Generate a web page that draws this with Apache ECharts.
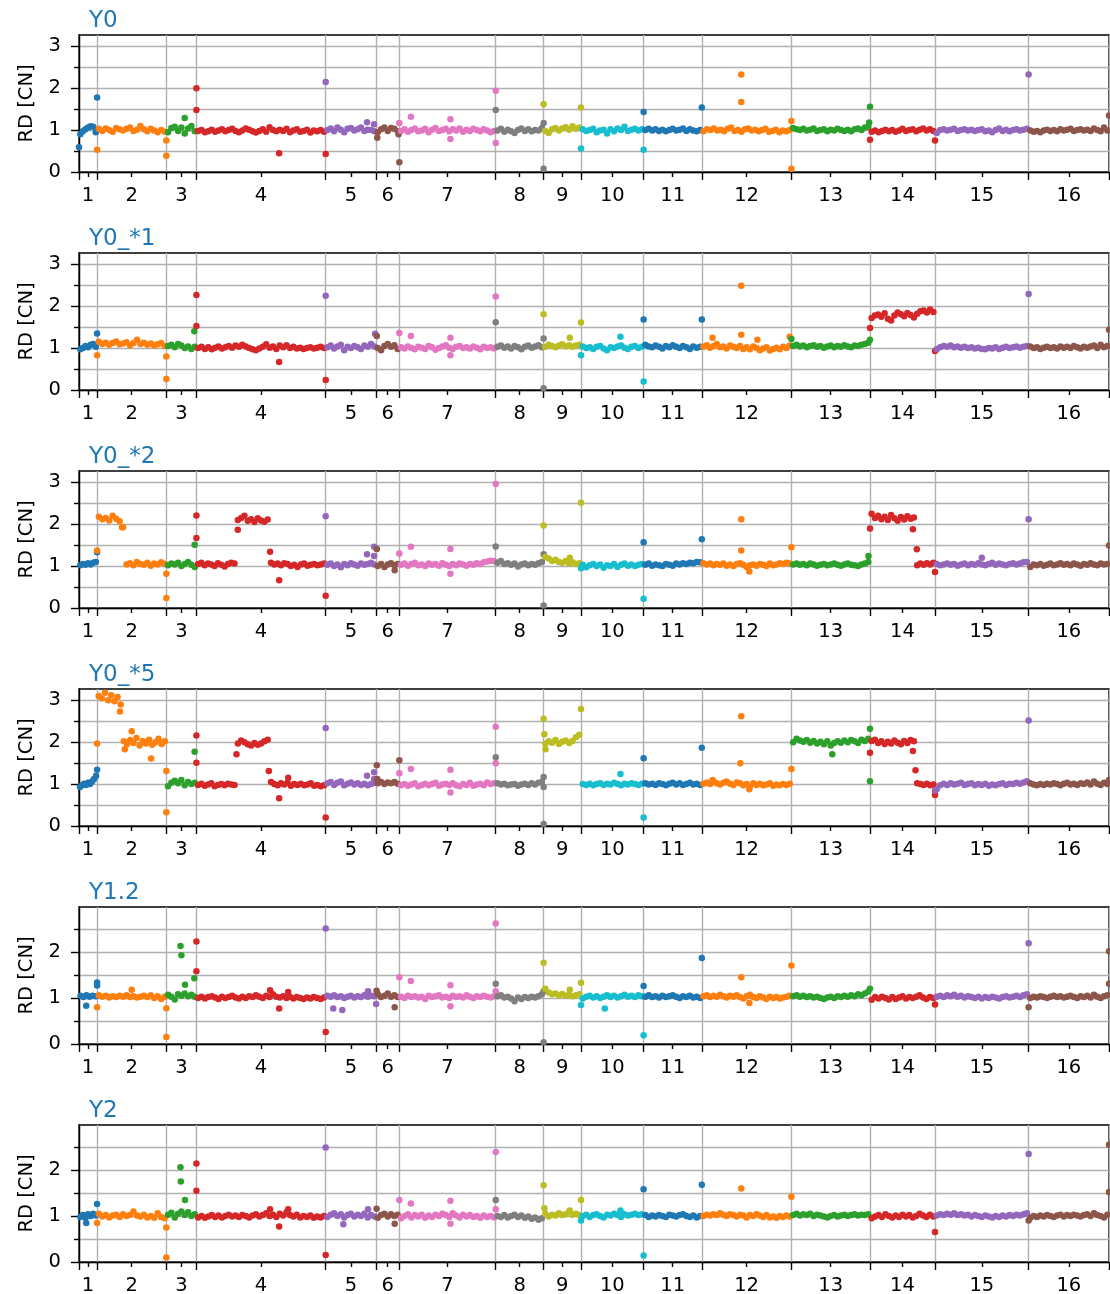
<!DOCTYPE html>
<html>
<head>
<meta charset="utf-8">
<script src="https://cdn.jsdelivr.net/npm/echarts@6/dist/echarts.min.js"></script>
<style>
  html, body { margin: 0; padding: 0; background: #fff; }
  #chart { width: 1110px; height: 1294px; }
</style>
</head>
<body>
<div id="chart"></div>
<script>
// chromosome names and widths (kb)
const chromNames = ['1', '2', '3', '4', '5', '6', '7', '8', '9', '10', '11', '12', '13', '14', '15', '16'];
const chromLen = [212, 812, 352, 1515, 591, 272, 1130, 561, 438, 734, 682, 1050, 921, 762, 1097, 942];

const panelTitles = ['Y0', 'Y0_*1', 'Y0_*2', 'Y0_*5', 'Y1.2', 'Y2'];
const yMax = [3.27, 3.27, 3.27, 3.27, 2.98, 2.98];
const yMajor = [0, 1, 2, 3];
const yMinor = [0.5, 1.5, 2.5];

// read depth per bin, one list per chromosome; outliers are [chrom, position along chrom (0..1), RD]
const bandY0 = [
  [0.90, 0.97, 1.02, 1.06, 1.09, 1.08, 0.95],
  [1.03, 0.98, 1.04, 1.00, 0.96, 1.05, 1.02, 0.99, 1.03, 1.06, 0.98, 1.01, 1.10, 1.02, 0.97, 1.03, 0.99, 0.95, 1.00, 0.96],
  [0.95, 1.05, 1.08, 0.98, 1.06, 0.92, 1.04, 1.10, 0.97],
  [0.98, 1.00, 0.95, 0.97, 1.01, 0.96, 0.99, 1.02, 0.97, 1.00, 1.03, 0.98, 0.95, 0.99, 1.04, 1.01, 0.97, 0.94, 0.98, 1.02, 0.96, 1.07, 1.00, 0.97, 1.01, 0.98, 1.03, 0.95, 0.99, 1.02, 0.96, 0.98, 1.01, 0.94, 0.99, 0.97, 1.00, 0.96],
  [1.00, 1.04, 0.97, 1.06, 1.01, 0.95, 1.03, 1.05, 0.99, 1.02, 1.06, 0.98, 1.01, 1.00, 0.97],
  [0.95, 1.02, 1.06, 0.98, 1.05, 1.03, 0.97],
  [0.98, 1.02, 0.96, 1.00, 1.04, 0.97, 0.99, 1.03, 0.95, 1.01, 1.05, 0.98, 1.00, 1.03, 0.97, 1.02, 0.99, 1.04, 0.96, 1.01, 0.98, 1.03, 1.00, 0.97, 1.02, 0.99, 0.95, 0.98],
  [0.99, 1.03, 0.96, 1.01, 0.97, 0.93, 1.00, 1.04, 0.98, 1.02, 0.97, 1.00, 0.99, 1.05],
  [0.98, 0.93, 1.02, 1.05, 0.99, 1.04, 1.07, 1.01, 1.09, 1.03, 1.06],
  [1.02, 0.98, 1.00, 1.03, 0.95, 0.99, 1.01, 0.92, 1.02, 0.97, 1.04, 1.00, 1.08, 0.98, 1.01, 1.03, 0.99, 1.02],
  [1.00, 1.03, 0.99, 1.02, 0.98, 1.01, 0.97, 1.00, 1.03, 0.99, 1.01, 1.04, 0.98, 1.02, 0.99, 0.97, 1.00],
  [0.97, 1.02, 1.00, 1.04, 0.99, 1.01, 0.97, 1.03, 1.06, 0.98, 1.00, 0.96, 1.02, 1.04, 0.99, 1.01, 0.97, 1.00, 1.03, 0.96, 0.98, 1.01, 0.95, 0.99, 0.97, 1.00],
  [1.05, 1.02, 1.00, 1.03, 0.99, 1.01, 1.04, 0.98, 1.00, 1.02, 0.97, 1.01, 0.99, 1.03, 1.00, 0.98, 1.01, 0.97, 1.02, 1.04, 1.00, 1.06, 1.08],
  [0.96, 0.99, 0.95, 0.98, 1.01, 0.97, 1.00, 0.96, 0.99, 1.03, 0.98, 1.00, 1.02, 0.97, 1.01, 1.04, 0.99, 1.02, 0.98],
  [0.93, 1.00, 1.02, 0.99, 1.01, 1.03, 0.98, 1.00, 1.02, 0.99, 1.01, 0.98, 1.00, 1.02, 0.97, 0.99, 0.95, 1.00, 1.04, 0.98, 1.01, 0.97, 1.00, 1.02, 0.99, 1.01, 1.03],
  [0.99, 0.96, 0.98, 0.95, 0.99, 1.01, 0.98, 1.00, 0.97, 1.02, 0.99, 1.01, 1.03, 0.98, 1.00, 1.02, 0.99, 1.01, 0.98, 1.04, 1.00, 0.97, 1.06, 0.99]
];
const outY0 = [
  [0, 0, 0.59], [0, 1, 1.78], [1, 0, 0.53], [1, 1, 0.75], [1, 1, 0.39], [2, 0.61, 1.29],
  [3, 0, 2.0], [3, 0, 1.48], [3, 0.64, 0.45], [3, 1, 0.43], [4, 0, 2.15], [4, 0.82, 1.19], [4, 0.96, 1.14],
  [5, 0.05, 0.82], [5, 0.97, 0.9], [5, 1, 0.23], [6, 0, 1.17], [6, 0.12, 1.32], [6, 0.53, 1.26], [6, 0.53, 0.79],
  [6, 1, 1.94], [6, 1, 0.69], [7, 0, 1.48], [7, 1, 1.17], [7, 1, 0.08], [8, 0, 1.62], [8, 1, 1.54],
  [9, 0, 0.56], [9, 1, 0.53], [10, 0, 1.43], [10, 1, 1.54], [11, 0.44, 2.33], [11, 0.44, 1.67],
  [11, 1, 1.22], [11, 1, 0.08], [12, 0.99, 1.18], [12, 1, 1.56], [13, 0, 0.77], [13, 1, 0.75],
  [14, 1, 2.33], [15, 1, 1.35]
];

const bandY0s1 = [
  [0.97, 1.00, 1.05, 1.02, 1.08, 1.10, 1.03],
  [1.15, 1.10, 1.13, 1.08, 1.12, 1.16, 1.09, 1.11, 1.14, 1.07, 1.12, 1.20, 1.10, 1.13, 1.08, 1.11, 1.06, 1.09, 1.12, 1.05],
  [1.05, 1.08, 1.02, 1.10, 1.06, 1.00, 1.04, 0.98, 1.03],
  [1.00, 1.03, 0.98, 1.02, 0.97, 1.01, 1.04, 0.99, 1.02, 1.05, 1.01, 1.06, 1.03, 1.08, 1.04, 1.00, 0.97, 0.95, 0.99, 1.03, 1.09, 1.01, 1.04, 0.98, 1.06, 1.02, 1.07, 1.00, 1.03, 0.99, 1.01, 0.98, 1.00, 1.02, 0.99, 1.01, 1.03, 1.00],
  [1.02, 1.06, 0.99, 1.04, 1.08, 0.95, 1.03, 1.00, 1.05, 1.02, 0.98, 1.06, 1.03, 1.10, 1.04],
  [1.00, 0.95, 1.05, 1.10, 1.03, 1.07, 0.98],
  [1.02, 0.99, 1.04, 1.00, 0.97, 1.03, 1.01, 0.98, 1.05, 1.02, 0.96, 1.00, 1.04, 1.07, 1.01, 0.98, 1.03, 1.05, 1.00, 1.02, 0.99, 1.04, 1.01, 0.97, 1.03, 1.00, 1.02, 0.99],
  [1.03, 1.06, 1.01, 1.04, 0.99, 1.05, 1.02, 0.97, 1.03, 1.06, 1.01, 1.04, 1.07, 1.02],
  [1.03, 1.08, 1.05, 1.02, 1.06, 1.09, 1.04, 1.07, 1.03, 1.06, 1.08],
  [1.04, 1.00, 1.02, 0.98, 1.03, 1.05, 0.99, 0.95, 1.02, 1.00, 1.04, 1.06, 1.01, 0.98, 1.03, 1.05, 1.00, 1.03],
  [1.08, 1.04, 1.02, 1.06, 1.03, 0.99, 1.05, 1.02, 1.07, 1.03, 1.00, 1.05, 1.02, 0.98, 1.04, 1.01, 1.03],
  [1.03, 1.07, 1.01, 1.05, 1.10, 1.02, 1.04, 0.99, 1.06, 1.03, 1.00, 1.05, 0.98, 1.02, 0.97, 1.04, 1.00, 0.95, 0.99, 1.02, 0.94, 0.98, 1.01, 0.97, 1.03, 1.00, 1.06],
  [1.05, 1.08, 1.04, 1.06, 1.02, 1.05, 1.07, 1.03, 1.05, 1.01, 1.04, 1.06, 1.02, 1.05, 1.03, 1.07, 1.04, 1.02, 1.06, 1.05, 1.08, 1.10, 1.13],
  [1.72, 1.78, 1.80, 1.75, 1.83, 1.70, 1.66, 1.78, 1.85, 1.81, 1.76, 1.84, 1.79, 1.73, 1.82, 1.88, 1.90, 1.85, 1.92, 1.86],
  [0.97, 1.02, 1.05, 1.03, 1.06, 1.02, 1.04, 1.01, 1.03, 1.00, 1.02, 0.99, 1.01, 0.98, 0.97, 1.00, 0.99, 1.02, 0.98, 1.01, 1.03, 1.00, 1.02, 1.04, 1.01, 1.03, 1.05],
  [1.04, 1.00, 1.02, 0.98, 1.01, 1.03, 1.00, 1.02, 0.99, 1.04, 1.01, 1.03, 1.00, 1.05, 1.02, 0.99, 1.03, 1.01, 1.04, 1.06, 1.00, 1.08, 1.02, 1.05]
];
const outY0s1 = [
  [0, 1, 1.35], [1, 0, 0.83], [1, 1, 0.8], [1, 1, 0.26], [2, 0.93, 1.4],
  [3, 0, 2.27], [3, 0, 1.53], [3, 0.64, 0.67], [3, 1, 0.24], [4, 0, 2.25], [4, 0.98, 1.34],
  [5, 0.03, 1.29], [6, 0, 1.36], [6, 0.12, 1.29], [6, 0.53, 1.25], [6, 0.53, 0.83], [6, 1, 2.23],
  [7, 0, 1.62], [7, 1, 1.23], [7, 1, 0.04], [8, 0, 1.81], [8, 0.7, 1.25], [8, 1, 1.61],
  [9, 0, 0.83], [9, 0.63, 1.27], [9, 1, 0.2], [10, 0, 1.68], [10, 1, 1.68],
  [11, 0.12, 1.25], [11, 0.44, 2.49], [11, 0.44, 1.32], [11, 0.62, 1.2], [11, 0.98, 1.27],
  [12, 0, 1.22], [12, 1, 1.2], [13, 0, 1.48], [13, 1, 0.93], [14, 1, 2.29], [15, 1, 1.44]
];

const bandY0s2 = [
  [1.02, 1.05, 1.03, 1.07, 1.04, 1.08, 1.10],
  [2.18, 2.12, 2.15, 2.09, 2.20, 2.13, 2.07, 1.93, 1.04, 1.07, 1.02, 1.10, 1.05, 1.03, 1.08, 1.01, 1.06, 1.04, 1.09, 1.05],
  [1.02, 1.06, 1.04, 1.08, 1.00, 1.05, 1.10, 1.03, 0.98],
  [1.05, 1.08, 1.02, 1.06, 1.04, 1.00, 1.07, 1.03, 0.99, 1.05, 1.08, 1.06,
   2.10, 2.15, 2.20, 2.08, 2.12, 2.05, 2.14, 2.09, 2.06, 2.11,
   1.08, 1.04, 1.06, 1.02, 1.07, 1.05, 1.00, 1.03, 0.98, 1.04, 1.06, 1.01, 1.03, 1.05, 1.02, 1.04, 1.06],
  [1.03, 1.06, 1.00, 1.04, 0.97, 1.05, 1.02, 1.07, 1.04, 1.01, 1.06, 1.03, 1.05, 1.08, 1.04],
  [1.00, 1.05, 0.98, 1.04, 1.07, 1.02, 1.05],
  [1.03, 1.06, 1.01, 1.05, 1.08, 1.02, 1.04, 1.00, 1.06, 1.03, 1.05, 1.01, 1.07, 1.03, 1.00, 1.05, 1.02, 1.06, 1.04, 1.01, 1.05, 1.03, 1.07, 1.05, 1.09, 1.11, 1.13, 1.12],
  [1.08, 1.12, 1.05, 1.07, 1.03, 1.06, 0.99, 1.04, 1.06, 1.02, 1.05, 1.03, 1.07, 1.10],
  [1.22, 1.18, 1.12, 1.15, 1.10, 1.08, 1.12, 1.06, 1.09, 1.05, 1.07],
  [1.03, 0.97, 1.02, 1.05, 1.00, 1.04, 0.96, 1.02, 1.00, 1.05, 0.98, 1.03, 1.06, 1.01, 1.04, 1.00, 1.03, 1.05],
  [1.03, 1.06, 1.01, 1.04, 1.02, 1.00, 1.05, 1.03, 1.01, 1.06, 1.04, 1.07, 1.05, 1.08, 1.07, 1.10, 1.09],
  [1.07, 1.04, 1.06, 1.02, 1.05, 1.03, 1.06, 1.01, 1.04, 1.00, 1.05, 1.07, 1.03, 0.98, 1.02, 1.04, 1.01, 1.05, 1.03, 1.00, 1.06, 1.02, 1.04, 1.07, 1.05, 1.08, 1.06],
  [1.04, 1.06, 1.03, 1.05, 1.02, 1.06, 1.04, 1.01, 1.03, 1.05, 1.02, 1.04, 1.06, 1.03, 1.01, 1.04, 1.06, 1.03, 1.02, 1.00, 1.04, 1.06, 1.10],
  [2.25, 2.15, 2.20, 2.12, 2.18, 2.10, 2.22, 2.14, 2.08, 2.17, 2.11, 2.19, 2.13, 2.16, 1.02, 1.06, 1.03, 1.07, 1.04, 1.08],
  [1.05, 1.02, 1.04, 1.06, 1.03, 1.05, 1.01, 1.04, 1.06, 1.02, 1.05, 1.03, 1.07, 1.04, 1.02, 1.05, 1.08, 1.03, 1.06, 1.04, 1.02, 1.05, 1.07, 1.04, 1.06, 1.09, 1.10],
  [0.98, 1.04, 1.02, 1.05, 1.01, 1.03, 1.06, 1.02, 1.04, 1.07, 1.03, 1.05, 1.02, 1.06, 1.04, 1.01, 1.05, 1.03, 1.07, 1.04, 1.02, 1.06, 1.04, 1.05]
];
const outY0s2 = [
  [0, 1, 1.33], [1, 0, 1.37], [1, 0.36, 1.93], [1, 1, 0.82], [1, 1, 0.24], [2, 0.94, 1.51],
  [3, 0, 2.21], [3, 0, 1.67], [3, 0.32, 1.87], [3, 0.57, 1.34], [3, 0.64, 0.66], [3, 1, 0.29],
  [4, 0, 2.19], [4, 0.82, 1.28], [4, 0.96, 1.46], [4, 0.96, 1.24], [5, 0.03, 1.41], [5, 0.8, 0.9],
  [6, 0, 1.3], [6, 0.12, 1.46], [6, 0.53, 1.41], [6, 0.53, 0.82], [6, 1, 2.96],
  [7, 0, 1.47], [7, 1, 1.28], [7, 1, 0.06], [8, 0, 1.97], [8, 0.7, 1.2], [8, 1, 2.51],
  [9, 0, 0.95], [9, 1, 0.22], [10, 0, 1.57], [10, 1, 1.64],
  [11, 0.44, 2.12], [11, 0.44, 1.37], [11, 0.53, 0.87], [11, 1, 1.45], [12, 0.98, 1.24],
  [13, 0, 1.9], [13, 0.66, 1.88], [13, 0.72, 1.4], [13, 1, 0.86], [14, 0.5, 1.2], [14, 1, 2.12], [15, 1, 1.49]
];

const bandY0s5 = [
  [0.93, 0.97, 1.01, 0.98, 1.03, 1.00, 1.06, 1.12, 1.20],
  [3.10, 3.05, 3.18, 3.00, 3.12, 2.98, 3.08, 2.90, 2.02, 1.95, 2.05, 1.98, 2.10, 1.92, 2.03, 1.97, 2.06, 1.94, 2.00, 2.08, 1.96, 2.02],
  [0.95, 1.03, 1.08, 1.02, 1.10, 0.97, 1.05, 1.00, 1.03],
  [0.98, 1.01, 0.96, 0.99, 1.02, 0.95, 0.98, 1.00, 0.97, 1.01, 0.99, 0.98,
   1.97, 2.04, 2.00, 1.95, 1.92, 1.98, 1.94, 1.97, 2.02, 2.06,
   1.05, 1.00, 0.97, 1.02, 0.99, 1.03, 0.96, 1.00, 0.98, 1.01, 0.97, 0.99, 1.02, 0.96, 0.98, 0.95, 0.97],
  [1.02, 1.05, 0.98, 1.03, 1.06, 0.97, 1.01, 1.04, 0.99, 1.02, 0.98, 1.01, 0.97, 1.00, 1.03],
  [1.02, 1.05, 1.00, 1.04, 1.02, 1.05, 1.01],
  [0.97, 1.00, 0.96, 0.99, 1.02, 0.95, 0.98, 1.01, 0.97, 1.00, 1.03, 0.96, 0.99, 1.01, 0.98, 1.02, 0.97, 0.95, 1.00, 0.98, 1.03, 0.96, 0.99, 1.01, 0.97, 1.04, 1.00, 1.02],
  [1.02, 0.99, 1.01, 0.97, 0.99, 1.00, 0.96, 0.99, 1.01, 0.98, 1.02, 0.99, 1.03, 1.05],
  [1.97, 2.02, 1.99, 2.05, 1.96, 2.01, 2.04, 1.98, 2.03, 2.12, 2.18],
  [1.00, 0.98, 1.01, 0.97, 1.00, 1.02, 0.98, 1.01, 0.99, 1.03, 1.00, 0.97, 1.01, 0.99, 1.02, 1.00, 0.98, 1.01],
  [1.02, 0.99, 1.01, 0.98, 1.02, 1.00, 0.97, 1.01, 1.03, 0.99, 1.02, 0.98, 1.00, 1.03, 0.99, 1.01, 0.98],
  [1.01, 1.04, 1.00, 1.07, 1.02, 0.99, 1.03, 1.06, 1.01, 0.98, 1.04, 1.02, 0.97, 1.00, 0.94, 1.02, 0.98, 1.01, 0.97, 0.99, 1.02, 0.96, 0.99, 0.97, 1.00, 0.98, 1.01],
  [2.00, 2.08, 2.04, 2.01, 2.05, 1.99, 2.03, 1.97, 2.01, 1.95, 2.02, 1.92, 1.98, 2.02, 1.99, 2.04, 2.00, 2.05, 2.02, 1.98, 2.06, 2.03, 2.08],
  [2.03, 2.06, 1.98, 2.02, 1.96, 2.01, 1.97, 2.04, 1.99, 1.95, 2.03, 1.98, 2.05, 2.02, 1.02, 1.00, 0.98, 1.01, 0.97, 0.99],
  [0.88, 0.97, 1.01, 0.98, 1.02, 0.99, 1.01, 1.03, 0.98, 1.00, 1.02, 0.97, 1.00, 0.98, 1.01, 0.96, 0.99, 0.97, 1.00, 1.02, 0.98, 1.01, 1.00, 1.03, 1.01, 1.04, 1.07],
  [1.02, 0.99, 0.97, 1.00, 0.98, 1.01, 0.99, 1.02, 1.00, 0.97, 1.01, 1.03, 0.99, 1.01, 0.98, 1.02, 1.00, 1.04, 0.99, 1.06, 1.01, 0.98, 1.03, 1.00]
];
const outY0s5 = [
  [0, 1, 1.34], [1, 0, 1.97], [1, 0.33, 2.73], [1, 0.4, 1.83], [1, 0.5, 2.26], [1, 0.78, 1.61], [1, 1, 1.31], [1, 1, 0.33],
  [2, 0.94, 1.77], [3, 0, 2.16], [3, 0, 1.51], [3, 0.31, 1.71], [3, 0.56, 1.31], [3, 0.64, 0.66], [3, 0.71, 1.15], [3, 1, 0.2],
  [4, 0, 2.34], [4, 0.82, 1.2], [4, 0.96, 1.28], [4, 0.96, 1.12], [5, 0.03, 1.45], [5, 0.05, 1.12], [5, 1, 1.57],
  [6, 0, 1.26], [6, 0.12, 1.36], [6, 0.53, 1.34], [6, 0.53, 0.8], [6, 1, 2.37], [6, 1, 1.5],
  [7, 0, 1.64], [7, 1, 1.17], [7, 1, 0.93], [7, 1, 0.05], [8, 0, 2.56], [8, 0.02, 2.19], [8, 0.05, 1.83], [8, 1, 2.79],
  [9, 0.63, 1.24], [9, 1, 0.2], [10, 0, 1.62], [10, 1, 1.87],
  [11, 0.12, 1.1], [11, 0.43, 1.5], [11, 0.44, 2.62], [11, 0.53, 0.88], [11, 1, 1.36],
  [12, 0.52, 1.71], [12, 1, 2.32], [12, 1, 1.07], [13, 0, 1.75], [13, 0.66, 1.79], [13, 0.7, 1.33], [13, 1, 0.74],
  [14, 0, 0.85], [14, 1, 2.52], [15, 1, 1.1]
];

const bandY12 = [
  [1.05, 1.02, 1.06, 1.03, 1.05, 1.04],
  [1.06, 1.03, 1.05, 1.01, 1.04, 1.02, 1.05, 1.03, 1.06, 1.02, 1.04, 1.01, 1.03, 1.05, 1.02, 1.06, 1.00, 1.04, 0.98, 1.03],
  [1.07, 1.03, 0.97, 1.08, 1.05, 1.10, 1.04, 1.07, 1.03],
  [1.00, 1.03, 0.99, 1.02, 1.04, 1.01, 0.98, 1.03, 1.00, 1.02, 1.05, 1.01, 0.99, 1.03, 1.00, 1.04, 1.02, 1.06, 1.03, 1.00, 1.05, 1.02, 1.08, 1.03, 1.01, 1.04, 1.00, 1.03, 0.99, 1.02, 1.00, 0.98, 1.01, 0.99, 1.02, 1.00, 0.98, 1.01],
  [1.05, 1.03, 1.06, 1.02, 1.04, 1.00, 1.03, 1.05, 1.01, 1.04, 1.02, 1.06, 1.03, 1.05, 1.04],
  [1.08, 1.02, 1.05, 1.10, 1.03, 1.06, 1.02],
  [1.03, 1.00, 1.05, 1.02, 1.04, 1.01, 1.03, 0.98, 1.05, 1.02, 1.04, 1.06, 1.01, 1.03, 1.00, 1.05, 1.02, 1.04, 1.01, 1.06, 1.03, 1.00, 1.04, 1.02, 1.05, 1.03, 1.01, 1.04],
  [1.04, 1.06, 1.01, 1.03, 0.99, 0.93, 1.01, 0.98, 1.02, 1.00, 1.03, 1.01, 1.04, 1.08],
  [1.20, 1.12, 1.08, 1.10, 1.06, 1.09, 1.05, 1.07, 1.04, 1.06, 1.08],
  [0.99, 1.03, 1.05, 1.01, 1.04, 1.00, 1.03, 1.06, 1.02, 1.05, 1.01, 1.04, 1.07, 1.03, 1.05, 1.02, 1.06, 1.04],
  [1.03, 1.06, 1.02, 1.04, 1.01, 1.05, 1.02, 1.04, 1.06, 1.03, 1.00, 1.04, 1.02, 1.05, 1.01, 1.03, 1.00],
  [1.04, 1.06, 1.02, 1.05, 1.03, 1.07, 1.04, 1.01, 1.05, 1.03, 1.06, 1.02, 0.99, 1.04, 1.07, 1.02, 1.00, 1.04, 1.01, 0.98, 1.03, 1.00, 1.02, 0.99, 1.01, 1.03, 1.05],
  [1.04, 1.06, 1.03, 1.05, 1.02, 1.04, 1.01, 1.03, 1.00, 0.98, 1.01, 1.03, 1.00, 1.04, 1.02, 1.05, 1.03, 1.06, 1.04, 1.08, 1.06, 1.10, 1.14],
  [0.96, 1.02, 0.99, 1.03, 1.00, 0.97, 1.02, 0.98, 1.01, 1.04, 0.99, 1.02, 1.00, 1.03, 1.06, 1.01, 0.98, 1.02, 1.00],
  [1.03, 1.05, 1.02, 1.06, 1.04, 1.07, 1.03, 1.05, 1.01, 1.04, 1.02, 1.00, 1.03, 0.99, 1.02, 1.00, 1.03, 1.01, 0.99, 1.02, 1.04, 1.01, 1.03, 1.05, 1.02, 1.06, 1.08],
  [1.00, 1.03, 1.01, 1.04, 1.02, 1.00, 1.03, 1.05, 1.02, 1.04, 1.01, 1.03, 1.05, 1.02, 1.00, 1.04, 1.02, 1.05, 1.01, 1.07, 1.03, 1.00, 1.04, 1.06]
];
const outY12 = [
  [0, 0.4, 0.83], [0, 1, 1.34], [0, 1, 1.27], [1, 0, 0.8], [1, 0.5, 1.18], [1, 1, 0.78], [1, 1, 0.15],
  [2, 0.47, 2.13], [2, 0.5, 1.93], [2, 0.62, 1.29], [2, 0.93, 1.43],
  [3, 0, 2.23], [3, 0, 1.58], [3, 0.57, 1.17], [3, 0.64, 0.77], [3, 0.71, 1.13], [3, 1, 0.26],
  [4, 0, 2.51], [4, 0.15, 0.77], [4, 0.33, 0.74], [4, 0.84, 1.15], [4, 1, 0.87], [5, 0.02, 1.16], [5, 0.8, 0.8],
  [6, 0, 1.45], [6, 0.12, 1.37], [6, 0.53, 1.28], [6, 0.53, 0.82], [6, 1, 2.62], [6, 1, 1.15],
  [7, 0, 1.31], [7, 1, 1.15], [7, 1, 0.04], [8, 0, 1.77], [8, 0.7, 1.18], [8, 1, 1.33],
  [9, 0, 0.85], [9, 0.38, 0.77], [9, 1, 0.19], [10, 0, 1.26], [10, 1, 1.87],
  [11, 0.44, 1.45], [11, 0.53, 0.89], [11, 1, 1.71], [12, 1, 1.2], [13, 1, 0.86], [14, 1, 2.19],
  [15, 0, 0.8], [15, 1, 2.02], [15, 1, 1.31]
];

const bandY2 = [
  [0.98, 1.02, 0.96, 1.04, 1.00, 1.05, 1.01],
  [1.05, 0.99, 1.02, 0.97, 1.01, 1.03, 0.98, 1.04, 1.00, 1.02, 1.10, 1.01, 0.99, 1.03, 0.97, 1.00, 0.96, 1.06, 0.98, 0.95],
  [1.03, 1.07, 0.97, 1.05, 1.10, 1.02, 1.08, 1.00, 1.04],
  [0.97, 1.00, 0.96, 0.99, 1.02, 0.98, 1.01, 0.97, 1.00, 1.03, 0.99, 1.01, 0.98, 1.02, 1.00, 0.97, 1.01, 1.04, 0.99, 1.02, 1.06, 1.00, 1.03, 0.98, 1.05, 1.01, 1.08, 1.02, 0.99, 1.03, 0.97, 1.00, 0.98, 1.01, 0.96, 0.99, 0.97, 1.00],
  [0.98, 1.03, 1.06, 1.00, 1.04, 0.97, 1.02, 1.05, 0.99, 1.03, 1.00, 1.05, 0.97, 1.02, 0.99],
  [0.96, 1.02, 1.05, 0.99, 1.04, 1.00, 1.03],
  [0.95, 1.00, 1.04, 0.97, 1.02, 0.99, 1.03, 0.96, 1.01, 0.98, 1.03, 1.00, 1.05, 1.02, 0.98, 1.06, 1.01, 0.97, 1.03, 0.99, 1.02, 0.98, 1.00, 0.96, 1.01, 0.98, 1.00, 0.97],
  [1.00, 0.98, 1.02, 0.97, 1.00, 1.03, 0.98, 1.01, 0.96, 0.99, 0.94, 0.97, 0.92, 0.95],
  [1.05, 0.99, 1.03, 1.01, 1.06, 1.02, 1.04, 1.10, 1.03, 1.05, 1.02],
  [1.00, 1.03, 0.98, 1.02, 1.04, 1.00, 0.97, 1.03, 1.01, 1.05, 1.02, 0.98, 1.04, 1.01, 1.03, 1.05, 1.02, 1.04],
  [1.02, 0.98, 1.01, 0.99, 1.02, 1.00, 0.98, 1.03, 1.01, 0.99, 1.02, 1.04, 1.00, 0.98, 1.01, 0.97, 1.00],
  [1.00, 1.03, 1.01, 1.04, 1.02, 1.06, 1.03, 1.00, 1.04, 1.02, 0.99, 1.03, 1.01, 0.97, 1.02, 1.00, 1.04, 1.01, 0.98, 1.02, 0.97, 0.99, 0.96, 1.00, 0.98, 1.01, 0.99],
  [1.02, 1.05, 1.01, 1.04, 1.02, 1.05, 1.00, 1.03, 1.01, 0.99, 0.97, 1.00, 1.02, 0.99, 1.01, 1.03, 1.00, 1.02, 1.04, 1.01, 1.03, 1.02, 1.04],
  [0.95, 0.99, 1.02, 0.98, 1.04, 1.00, 0.97, 1.01, 0.98, 1.03, 0.99, 1.02, 0.97, 1.00, 1.05, 1.01, 0.98, 1.03, 0.99],
  [1.01, 1.04, 1.02, 1.05, 1.03, 1.06, 1.02, 1.04, 1.01, 1.03, 0.99, 1.02, 1.00, 0.98, 1.01, 0.99, 0.97, 1.00, 0.98, 1.01, 0.99, 1.02, 1.00, 1.03, 1.01, 1.04, 1.06],
  [0.96, 1.00, 0.98, 1.01, 0.99, 1.02, 1.00, 0.98, 1.01, 1.03, 0.99, 1.02, 1.00, 1.03, 1.01, 0.99, 1.02, 1.04, 1.00, 1.06, 1.02, 1.00, 0.97, 1.03]
];
const outY2 = [
  [0, 0.4, 0.85], [0, 1, 1.26], [1, 0, 0.85], [1, 1, 0.75], [1, 1, 0.1],
  [2, 0.47, 2.06], [2, 0.48, 1.75], [2, 0.62, 1.35],
  [3, 0, 2.14], [3, 0, 1.55], [3, 0.57, 1.15], [3, 0.64, 0.77], [3, 0.71, 1.15], [3, 1, 0.15],
  [4, 0, 2.49], [4, 0.35, 0.82], [4, 0.84, 1.15], [5, 0.02, 1.16], [5, 0.8, 0.83],
  [6, 0, 1.35], [6, 0.12, 1.27], [6, 0.53, 1.33], [6, 0.53, 0.83], [6, 1, 2.39], [6, 1, 1.15],
  [7, 0, 1.35], [8, 0, 1.67], [8, 0.02, 1.17], [8, 0.7, 1.12], [8, 1, 1.35],
  [9, 0, 0.9], [9, 0.63, 1.12], [9, 1, 0.14], [10, 0, 1.58], [10, 1, 1.68],
  [11, 0.44, 1.6], [11, 1, 1.42], [13, 1, 0.65], [14, 1, 2.35],
  [15, 0, 0.9], [15, 1, 2.55], [15, 1, 1.52]
];

const panelBands = [bandY0, bandY0s1, bandY0s2, bandY0s5, bandY12, bandY2];
const panelOutliers = [outY0, outY0s1, outY0s2, outY0s5, outY12, outY2];

const palette = ['#1f77b4', '#ff7f0e', '#2ca02c', '#d62728', '#9467bd', '#8c564b', '#e377c2', '#7f7f7f', '#bcbd22', '#17becf'];
const font = 'DejaVu Sans';

const starts = [];
let total = 0;
chromLen.forEach(l => { starts.push(total); total += l; });
const bounds = starts.concat([total]);
const centers = chromLen.map((l, i) => starts[i] + l / 2);

function chromAt(v) {
  let best = 0;
  centers.forEach((c, i) => { if (Math.abs(c - v) < Math.abs(centers[best] - v)) best = i; });
  return chromNames[best];
}

function panelPoints(bands, outliers) {
  const pts = [];
  bands.forEach((vals, c) => {
    vals.forEach((v, i) => pts.push([starts[c] + (i + 0.5) / vals.length * chromLen[c], v, c]));
    outliers.filter(o => o[0] === c).forEach(o => pts.push([starts[c] + o[1] * chromLen[c], o[2], c]));
  });
  return pts;
}

const tops = [35, 253, 471, 689, 907, 1125];
const black = { color: '#000', width: 1.4 };
const gridLine = { show: true, lineStyle: { color: '#b0b0b0', width: 1.4 } };

const grids = [], xAxes = [], yAxes = [], titles = [], series = [];
tops.forEach((top, p) => {
  grids.push({ left: 79, right: 1, top: top, height: 137, show: true, borderColor: '#000', borderWidth: 1.4, containLabel: false, outerBoundsMode: 'none' });
  titles.push({ text: panelTitles[p], left: 89, top: top - 25, padding: 0,
    textStyle: { fontFamily: font, fontSize: 23, fontWeight: 'normal', color: '#1f77b4' } });

  // boundaries: long ticks and vertical grid lines
  xAxes.push({ type: 'value', gridIndex: p, min: 0, max: total, position: 'bottom',
    axisLine: { onZero: false, lineStyle: black },
    axisTick: { customValues: bounds, length: 8, lineStyle: black },
    axisLabel: { show: false },
    splitLine: gridLine });
  // chromosome centres: short ticks with labels
  xAxes.push({ type: 'value', gridIndex: p, min: 0, max: total, position: 'bottom',
    axisLine: { show: false },
    axisTick: { customValues: centers, length: 5, lineStyle: black },
    axisLabel: { customValues: centers, formatter: v => chromAt(v), margin: 14, fontSize: 19.5, fontFamily: font, color: '#000' },
    splitLine: { show: false } });

  const major = yMajor.filter(v => v <= yMax[p]);
  const minor = yMinor.filter(v => v <= yMax[p]);
  // major ticks, horizontal grid lines and axis name
  yAxes.push({ type: 'value', gridIndex: p, min: 0, max: yMax[p], position: 'left',
    axisLine: { onZero: false, lineStyle: black },
    axisTick: { customValues: major, length: 8, lineStyle: black },
    axisLabel: { show: false },
    splitLine: gridLine,
    name: 'RD [CN]', nameLocation: 'middle', nameRotate: 90, nameGap: 42, nameMoveOverlap: false,
    nameTextStyle: { fontSize: 19.5, fontFamily: font, color: '#000' } });
  // half-unit ticks and grid lines
  yAxes.push({ type: 'value', gridIndex: p, min: 0, max: yMax[p], position: 'left',
    axisLine: { show: false },
    axisTick: { customValues: minor, length: 5, lineStyle: black },
    axisLabel: { show: false },
    splitLine: gridLine });
  // tick labels, set away from the spine
  yAxes.push({ type: 'value', gridIndex: p, min: 0, max: yMax[p], position: 'left', offset: 10,
    axisLine: { show: false },
    axisTick: { show: false },
    axisLabel: { customValues: major, margin: 8, fontSize: 19.5, fontFamily: font, color: '#000' },
    splitLine: { show: false } });

  series.push({ type: 'scatter', xAxisIndex: 2 * p, yAxisIndex: 3 * p,
    symbolSize: 6.5, silent: true,
    itemStyle: { color: params => palette[params.value[2] % 10], opacity: 1 },
    data: panelPoints(panelBands[p], panelOutliers[p]) });
});

const chart = echarts.init(document.getElementById('chart'), null, { renderer: 'canvas' });
chart.setOption({
  animation: false,
  backgroundColor: '#fff',
  textStyle: { fontFamily: font },
  title: titles,
  grid: grids,
  xAxis: xAxes,
  yAxis: yAxes,
  series: series
});
</script>
</body>
</html>
